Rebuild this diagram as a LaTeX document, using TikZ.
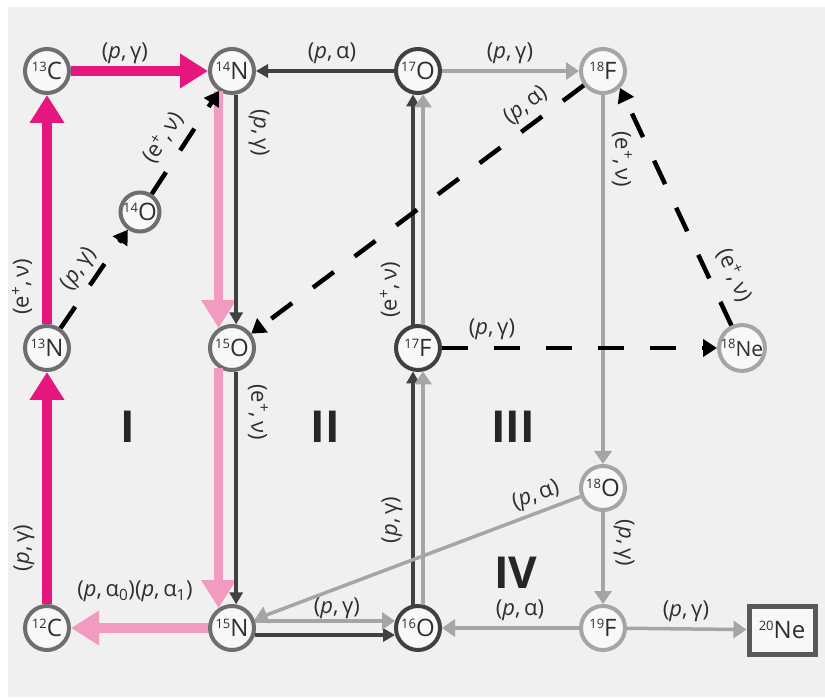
\documentclass[tikz,border=0pt]{standalone}
\usepackage{fontspec}
\setmainfont{Open Sans}
\usetikzlibrary{arrows.meta}
\definecolor{cnomagenta}{HTML}{E5177E}
\definecolor{cnopink}{HTML}{F29BC0}
\definecolor{cycledark}{HTML}{404040}
\definecolor{cyclelight}{HTML}{A5A5A5}
\definecolor{ringgray}{HTML}{6E6E6E}
\definecolor{panelgray}{HTML}{F0F0F0}
\definecolor{inkgray}{HTML}{2E2E2E}
\newcommand{\iso}[2]{\raisebox{8pt}{\fontsize{13}{13}\selectfont #1}#2}
\newcommand{\lpg}{(\textit{p},\,γ)}
\newcommand{\lpa}{(\textit{p},\,α)}
\newcommand{\lev}{(e\textsuperscript{+},\,ν)}
\tikzset{
  nuc/.style={circle, draw=ringgray, line width=4pt, fill=white!55!panelgray,
    minimum size=44pt, inner sep=0pt, text=inkgray, font=\fontsize{24}{24}\selectfont},
  nucdark/.style={nuc, draw=cycledark},
  nuclight/.style={nuc, draw=cyclelight},
  react/.style={inner sep=0pt, text=inkgray, font=\fontsize{22}{22}\selectfont},
  cycnum/.style={text=black!85, font=\fontsize{44}{44}\selectfont\bfseries},
  cnoarr/.style={line width=#1, -{Triangle[length=28pt,width=33pt]}},
  darkarr/.style={cycledark, line width=3.5pt, -{Triangle[length=12pt,width=13pt]}},
  lightarr/.style={cyclelight, line width=3.5pt, -{Triangle[length=13pt,width=17pt]}},
  decayarr/.style={black, line width=4.5pt, dash pattern=on 26pt off 26pt,
    -{Triangle[length=14pt,width=17pt]}}
}
\begin{document}
\begin{tikzpicture}[x=1pt,y=1pt]
  \useasboundingbox (0,0) rectangle (825,697);
  \fill[panelgray] (8,0) rectangle (825,690);

  % isotopes
  \node[nuc] (C13) at (47,626) {\iso{13}{C}};
  \node[nuc] (N14) at (232,626) {\iso{14}{N}};
  \node[nucdark] (O17) at (418,626) {\iso{17}{O}};
  \node[nuclight] (F18) at (603,626) {\iso{18}{F}};
  \node[nuc, minimum size=39pt] (O14) at (140,485) {\iso{14}{O}};
  \node[nuc] (N13) at (47,349) {\iso{13}{N}};
  \node[nuc] (O15) at (232,349) {\iso{15}{O}};
  \node[nucdark] (F17) at (418,349) {\iso{17}{F}};
  \node[nuclight, font=\fontsize{21}{21}\selectfont] (Ne18) at (742,349) {\iso{18}{Ne}};
  \node[nuclight] (O18) at (603,209) {\iso{18}{O}};
  \node[nuc] (C12) at (47,69) {\iso{12}{C}};
  \node[nuc] (N15) at (232,69) {\iso{15}{N}};
  \node[nucdark] (O16) at (418,69) {\iso{16}{O}};
  \node[nuclight] (F19) at (603,69) {\iso{19}{F}};
  \node[draw=black!65, line width=5pt, fill=white!55!panelgray, minimum width=66pt,
    minimum height=48pt, text=inkgray, font=\fontsize{24}{24}\selectfont] (Ne20) at (782,67) {\iso{20}{Ne}};

  % cycle I
  \draw[cnoarr=10pt, cnomagenta] (C12) -- (N13);
  \draw[cnoarr=10pt, cnomagenta] (N13) -- (C13);
  \draw[cnoarr=10pt, cnomagenta] (C13) -- (N14);
  \draw[cnoarr=8.5pt, cnopink] (N14.-124) -- (O15.124);
  \draw[cnoarr=8.5pt, cnopink] (O15.-124) -- (N15.124);
  \draw[cnoarr=10pt, cnopink] (N15) -- (C12);
  % cycle II
  \draw[darkarr] (N14.-80) -- (O15.80);
  \draw[darkarr] (O15.-80) -- (N15.80);
  \draw[darkarr] (N15.-17) -- (O16.-163);
  \draw[darkarr] (O16.102) -- (F17.-102);
  \draw[darkarr] (F17.102) -- (O17.-102);
  \draw[darkarr] (O17) -- (N14);
  % cycle III
  \draw[lightarr] (N15.17) -- (O16.163);
  \draw[lightarr] (O16.78) -- (F17.-78);
  \draw[lightarr] (F17.78) -- (O17.-78);
  \draw[lightarr] (O17) -- (F18);
  \draw[lightarr] (F18) -- (O18);
  \draw[lightarr] (O18) -- (N15);
  % cycle IV
  \draw[lightarr] (O18) -- (F19);
  \draw[lightarr] (F19) -- (O16);
  \draw[lightarr] (F19) -- (Ne20);
  % hot branches
  \draw[decayarr] (N13) -- (O14);
  \draw[decayarr] (O14) -- (N14);
  \draw[decayarr] (F18) -- (O15);
  \draw[decayarr] (F17) -- (Ne18);
  \draw[decayarr] (Ne18) -- (F18.-45);

  % reactions
  \node[react] (rC13) at (125,644) {\lpg};
  \node[react] (rO17a) at (332,644) {\lpa};
  \node[react] (rO17g) at (510,644) {\lpg};
  \node[react, rotate=-90] (rN14) at (259,564) {\lpg};
  \node[react, rotate=57] (rO14) at (163,559) {\lev};
  \node[react, rotate=56] (rN13g) at (79,428) {\lpg};
  \node[react, rotate=90] (rN13e) at (22,410) {\lev};
  \node[react, rotate=90] (rC12) at (24,149) {\lpg};
  \node[react] (rN15a) at (135,106) {(\textit{p},\,α\textsubscript{0})(\textit{p},\,α\textsubscript{1})};
  \node[react, rotate=-90] (rO15) at (258,285) {\lev};
  \node[react] (rN15g) at (337,89) {\lpg};
  \node[react, rotate=90] (rO16) at (392,177) {\lpg};
  \node[react, rotate=90] (rF17e) at (390,407) {\lev};
  \node[react, rotate=37] (rF18a) at (526,591) {\lpa};
  \node[react, rotate=-90] (rF18e) at (622,538) {\lev};
  \node[react, rotate=-66] (rNe18) at (734,422) {\lev};
  \node[react] (rF17g) at (492,368) {\lpg};
  \node[react, rotate=20] (rO18a) at (536,201) {\lpa};
  \node[react, rotate=-90] (rO18g) at (624,154) {\lpg};
  \node[react] (rF19a) at (520,87) {\lpa};
  \node[react] (rF19g) at (686,86) {\lpg};

  % cycle numbers
  \node[cycnum] (cycI) at (128,270) {I};
  \node[cycnum] (cycII) at (325,270) {II};
  \node[cycnum] (cycIII) at (513,270) {III};
  \node[cycnum] (cycIV) at (516,124) {IV};
\end{tikzpicture}
\end{document}
